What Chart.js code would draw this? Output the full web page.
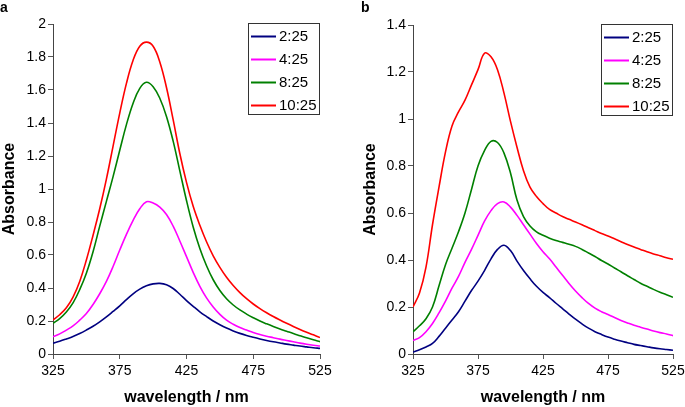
<!DOCTYPE html>
<html>
<head>
<meta charset="utf-8">
<script src="https://cdn.jsdelivr.net/npm/chart.js"></script>
<style>
html,body{margin:0;padding:0;background:#fff;overflow:hidden;width:685px;height:407px;}
#wrapA{position:absolute;left:0;top:0;width:340px;height:407px;}
#wrapB{position:absolute;left:340px;top:0;width:360px;height:407px;}
</style>
</head>
<body>
<div id="wrapA"><canvas id="chartA"></canvas></div>
<div id="wrapB"><canvas id="chartB"></canvas></div>
<script>
// --- DATI ---
const wavelengths = [325,330,335,340,345,350,355,360,365,370,375,380,385,390,395,400,405,410,415,420,
  425,430,435,440,445,450,455,460,465,470,475,480,485,490,495,500,505,510,515,520,525];
const seriesLabels = ["2:25","4:25","8:25","10:25"];
const seriesColors = ["#000080","#ff00ff","#008000","#ff0000"];
const xTicks = [325,375,425,475,525];
const yTicksA = [0,0.2,0.4,0.6,0.8,1,1.2,1.4,1.6,1.8,2];
const yTicksB = [0,0.2,0.4,0.6,0.8,1,1.2,1.4];

// pannello a
const a2  = [0.065,0.077,0.091,0.106,0.124,0.145,0.168,0.195,0.225,0.258,0.292,0.33,0.365,0.393,0.413,0.425,0.428,0.42,0.397,0.362,
  0.324,0.289,0.256,0.227,0.2,0.177,0.157,0.14,0.125,0.112,0.101,0.091,0.082,0.074,0.067,0.06,0.054,0.048,0.043,0.038,0.034];
const a4  = [0.105,0.122,0.145,0.17,0.205,0.245,0.3,0.365,0.44,0.53,0.63,0.725,0.81,0.88,0.923,0.915,0.89,0.845,0.775,0.685,
  0.59,0.495,0.41,0.34,0.285,0.24,0.205,0.18,0.16,0.145,0.13,0.118,0.108,0.099,0.09,0.082,0.074,0.066,0.059,0.053,0.048];
const a8  = [0.186,0.215,0.255,0.31,0.39,0.49,0.62,0.775,0.925,1.075,1.235,1.39,1.52,1.61,1.647,1.62,1.55,1.44,1.29,1.11,
  0.93,0.77,0.64,0.535,0.45,0.385,0.335,0.297,0.267,0.242,0.22,0.2,0.183,0.167,0.152,0.138,0.124,0.111,0.098,0.086,0.075];
const a10 = [0.206,0.238,0.28,0.345,0.44,0.57,0.72,0.88,1.06,1.26,1.46,1.64,1.78,1.865,1.89,1.865,1.77,1.615,1.42,1.215,
  1.04,0.895,0.78,0.68,0.595,0.525,0.465,0.415,0.372,0.335,0.303,0.275,0.25,0.227,0.206,0.186,0.167,0.149,0.132,0.116,0.1];

// pannello b
const b2  = [0.008,0.018,0.03,0.045,0.075,0.11,0.145,0.18,0.225,0.27,0.31,0.355,0.405,0.445,0.463,0.44,0.395,0.355,0.32,0.288,
  0.262,0.24,0.216,0.193,0.17,0.148,0.128,0.11,0.095,0.083,0.072,0.063,0.055,0.048,0.041,0.036,0.031,0.026,0.022,0.019,0.016];
const b4  = [0.057,0.07,0.095,0.13,0.175,0.225,0.28,0.33,0.39,0.445,0.505,0.565,0.61,0.64,0.647,0.625,0.59,0.55,0.51,0.47,
  0.435,0.405,0.37,0.335,0.3,0.268,0.24,0.215,0.195,0.18,0.168,0.155,0.143,0.132,0.122,0.114,0.106,0.098,0.091,0.085,0.078];
const b8  = [0.095,0.12,0.15,0.2,0.29,0.38,0.45,0.52,0.6,0.7,0.8,0.865,0.905,0.9,0.855,0.77,0.655,0.585,0.545,0.52,
  0.505,0.493,0.483,0.475,0.467,0.458,0.445,0.43,0.415,0.398,0.383,0.366,0.35,0.333,0.317,0.301,0.288,0.275,0.263,0.252,0.241];
const b10 = [0.2,0.26,0.37,0.55,0.71,0.86,0.97,1.03,1.08,1.145,1.21,1.28,1.265,1.21,1.11,0.99,0.88,0.78,0.71,0.67,
  0.64,0.615,0.6,0.585,0.573,0.562,0.55,0.537,0.525,0.513,0.502,0.49,0.478,0.466,0.455,0.445,0.435,0.426,0.418,0.41,0.403];

const FONT = '"Liberation Sans", Arial, sans-serif';

// --- LEGENDA CON BORDO ---
const legendBox = {
  id:'legendBox',
  afterDraw(chart, args, opts){
    const ctx = chart.ctx, area = chart.chartArea;
    const w = opts.width, h = opts.height;
    const x0 = Math.round(area.right - w), y0 = Math.round(area.top - 1);
    ctx.save();
    ctx.fillStyle = "#fff";
    ctx.fillRect(x0, y0, w, h);
    ctx.strokeStyle = "#333";
    ctx.lineWidth = 1;
    ctx.strokeRect(x0+0.5, y0+0.5, w-1, h-1);
    ctx.font = "15px " + FONT;
    ctx.textBaseline = "middle";
    chart.data.datasets.forEach((ds,i)=>{
      const y = y0 + 13.5 + i*23;
      ctx.strokeStyle = ds.borderColor;
      ctx.lineWidth = 2;
      ctx.beginPath(); ctx.moveTo(x0+3, y); ctx.lineTo(x0+28, y); ctx.stroke();
      ctx.fillStyle = "#000";
      ctx.fillText(ds.label, x0+31, y+0.5);
    });
    ctx.restore();
  }
};

function makeDatasets(series){
  return series.map((vals,i)=>({
    label: seriesLabels[i],
    data: wavelengths.map((x,j)=>({x, y: vals[j]})),
    borderColor: seriesColors[i],
    borderWidth: 1.6,
    pointRadius: 0,
    fill: false,
    tension: 0.4
  }));
}

function makeChart(id, series, yTicks, cfg){
  return new Chart(document.getElementById(id), {
    type: 'line',
    data: { datasets: makeDatasets(series) },
    options: {
      responsive: true,
      maintainAspectRatio: false,
      animation: false,
      layout: { padding: { left: cfg.padLeft, right: cfg.padRight, top: 0, bottom: 0 } },
      plugins: {
        legend: { display: false },
        tooltip: { enabled: false },
        title: {
          display: true, text: cfg.panel, align: 'start', color: '#000',
          font: { family: FONT, size: 14, weight: 'bold' },
          padding: { top: 0, bottom: cfg.titleGap }
        },
        legendBox: { width: 72, height: 92 }
      },
      scales: {
        x: {
          type: 'linear', min: 325, max: 525,
          afterBuildTicks: s => { s.ticks = xTicks.map(v=>({value:v})); },
          afterFit: s => { s.height = 53; },
          ticks: { color: '#000', font: { family: FONT, size: 14 }, padding: 4, maxRotation: 0 },
          grid: { drawOnChartArea: false, drawTicks: true, tickLength: 5, color: '#555' },
          border: { display: true, color: '#444', width: 1 },
          title: { display: true, text: 'wavelength / nm', color: '#000',
            font: { family: FONT, size: 16, weight: 'bold' }, padding: 0 }
        },
        y: {
          min: 0, max: yTicks[yTicks.length-1],
          afterBuildTicks: s => { s.ticks = yTicks.map(v=>({value:v})); },
          afterFit: s => { s.width = cfg.yWidth; },
          ticks: { color: '#000', font: { family: FONT, size: 14 }, padding: 2, callback: v => String(v) },
          grid: { drawOnChartArea: false, drawTicks: true, tickLength: 5, color: '#555' },
          border: { display: true, color: '#444', width: 1 },
          title: { display: true, text: 'Absorbance', color: '#000',
            font: { family: FONT, size: 16, weight: 'bold' }, padding: 0 }
        }
      }
    },
    plugins: [legendBox]
  });
}

makeChart('chartA', [a2,a4,a8,a10], yTicksA, { panel:'a', padLeft:0, padRight:20, yWidth:53, titleGap:7.2 });
makeChart('chartB', [b2,b4,b8,b10], yTicksB, { panel:'b', padLeft:21, padRight:27, yWidth:52, titleGap:8.2 });
</script>
</body>
</html>
